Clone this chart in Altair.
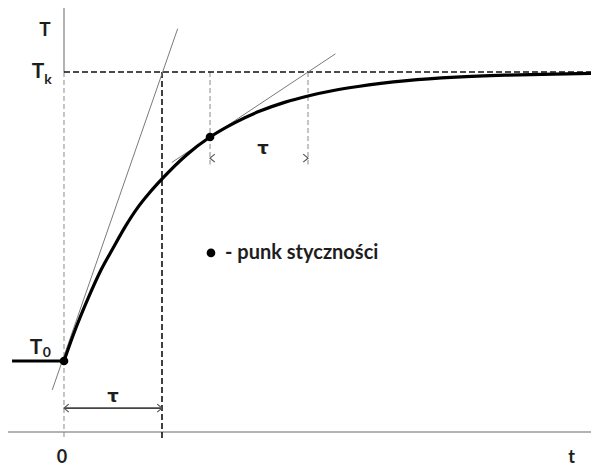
import altair as alt
import pandas as pd

# ---- data (time in units of tau, temperature normalised: T0 = 0, Tk = 1) ----
step_t = [-0.53, 0.0]
step_T = [0.0, 0.0]

curve_t = [0.0, 0.1, 0.25, 0.375, 0.5, 0.625, 0.75, 0.875, 1.0, 1.25, 1.49, 1.75, 2.0, 2.25, 2.5, 2.75, 3.0, 3.5, 4.0, 4.5, 5.0, 5.38]
curve_T = [0.0, 0.095, 0.22, 0.313, 0.39, 0.465, 0.53, 0.583, 0.63, 0.713, 0.775, 0.826, 0.865, 0.895, 0.918, 0.936, 0.95, 0.97, 0.982, 0.989, 0.993, 0.995]

tangent_x1 = [-0.12, 1.10]
tangent_y1 = [-0.10, 0.687]
tangent_x2 = [1.16, 2.77]
tangent_y2 = [1.15, 1.063]

touch_t = [0.0, 1.49]
touch_T = [0.0, 0.775]

axis_level = -0.246
X_MIN, X_MAX = -0.5714, 5.3776
Y_MIN, Y_MAX = -0.3633, 1.2215

xs = alt.Scale(domain=[X_MIN, X_MAX], nice=False, zero=False)
ys = alt.Scale(domain=[Y_MIN, Y_MAX], nice=False, zero=False)
FONT = "Lato"
TXT = "#1e1e1e"


def seg(x1, y1, x2, y2):
    return pd.DataFrame({"x": x1, "y": y1, "x2": x2, "y2": y2})


def rule(df, color, width, dash=None):
    kw = dict(color=color, strokeWidth=width)
    if dash:
        kw["strokeDash"] = dash
    return alt.Chart(df).mark_rule(**kw).encode(
        x=alt.X("x:Q", scale=xs, axis=None),
        y=alt.Y("y:Q", scale=ys, axis=None),
        x2="x2:Q", y2="y2:Q")


axes = rule(seg([X_MIN, 0.0], [axis_level, 1.0], [X_MAX, 0.0], [axis_level, Y_MAX]),
            "#9a9a9a", 1.5)
thin_dash = rule(seg([0.0, 1.49, 2.49], [1.0, 1.0, 1.0], [0.0, 1.49, 2.49], [-0.273, 0.68, 0.68]),
                 "#8a8a8a", 1, [5, 3])
thick_dash = rule(seg([0.0, 1.0], [1.0, 1.0], [X_MAX, 1.0], [1.0, -0.273]),
                  "#111111", 1.6, [6, 3])
tangents = rule(seg(tangent_x1, tangent_y1, tangent_x2, tangent_y2), "#7a7a7a", 1)
arrow_line = rule(seg([0.0], [-0.163], [1.0], [-0.163]), "#444444", 1.6)

heads_left = alt.Chart(pd.DataFrame({"x": [0.0, 1.49], "y": [-0.163, 0.702]})).mark_point(
    shape="M1.2,-1L0,0L1.2,1", filled=False, size=64, color="#555555", strokeWidth=1.2,
    opacity=1).encode(x=alt.X("x:Q", scale=xs, axis=None), y=alt.Y("y:Q", scale=ys, axis=None))
heads_right = alt.Chart(pd.DataFrame({"x": [1.0, 2.49], "y": [-0.163, 0.702]})).mark_point(
    shape="M-1.2,-1L0,0L-1.2,1", filled=False, size=64, color="#555555", strokeWidth=1.2,
    opacity=1).encode(x=alt.X("x:Q", scale=xs, axis=None), y=alt.Y("y:Q", scale=ys, axis=None))

step = alt.Chart(pd.DataFrame({"t": step_t, "T": step_T})).mark_line(
    color="black", strokeWidth=3).encode(
    x=alt.X("t:Q", scale=xs, axis=None), y=alt.Y("T:Q", scale=ys, axis=None))
curve = alt.Chart(pd.DataFrame({"t": curve_t, "T": curve_T})).mark_line(
    color="black", strokeWidth=3.2, interpolate="monotone").encode(
    x=alt.X("t:Q", scale=xs, axis=None), y=alt.Y("T:Q", scale=ys, axis=None))

dots = alt.Chart(pd.DataFrame({"t": touch_t + [1.50], "T": touch_T + [0.374]})).mark_circle(
    color="black", size=75, opacity=1).encode(
    x=alt.X("t:Q", scale=xs, axis=None), y=alt.Y("T:Q", scale=ys, axis=None))

labels = pd.DataFrame({
    "x": [-0.194, -0.265, -0.285, -0.02, 5.18],
    "y": [1.145, 1.0, 0.045, -0.336, -0.336],
    "text": ["T", "T", "T", "0", "t"],
    "size": [19, 21, 21, 18, 18],
})
big_text = alt.Chart(labels).mark_text(font=FONT, fontWeight="bold", color=TXT,
                                       align="center", baseline="middle").encode(
    x=alt.X("x:Q", scale=xs, axis=None), y=alt.Y("y:Q", scale=ys, axis=None),
    text="text:N", size=alt.Size("size:Q", scale=None, legend=None))

tau_text = alt.Chart(pd.DataFrame({"x": [0.50, 2.03], "y": [-0.125, 0.733], "text": ["τ", "τ"]})).mark_text(
    font="DejaVu Sans", fontWeight="bold", color=TXT, fontSize=18,
    align="center", baseline="middle").encode(
    x=alt.X("x:Q", scale=xs, axis=None), y=alt.Y("y:Q", scale=ys, axis=None), text="text:N")

subs = pd.DataFrame({"x": [-0.163, -0.175], "y": [0.972, 0.028], "text": ["k", "0"]})
sub_text = alt.Chart(subs).mark_text(font=FONT, fontWeight="bold", color=TXT, fontSize=14,
                                     align="center", baseline="middle").encode(
    x=alt.X("x:Q", scale=xs, axis=None), y=alt.Y("y:Q", scale=ys, axis=None), text="text:N")

legend_text = alt.Chart(pd.DataFrame({"x": [1.643], "y": [0.374], "text": ["- punk styczności"]})).mark_text(
    font=FONT, fontWeight="bold", color=TXT, fontSize=20, align="left", baseline="middle").encode(
    x=alt.X("x:Q", scale=xs, axis=None), y=alt.Y("y:Q", scale=ys, axis=None), text="text:N")

chart = alt.layer(axes, thin_dash, thick_dash, tangents, arrow_line, heads_left, heads_right,
                  step, curve, dots, big_text, tau_text, sub_text, legend_text).properties(
    width=583, height=458, padding=0,
    autosize=alt.AutoSizeParams(type="none"),
).configure_view(stroke=None)

chart.save("out.html", embed_options={"renderer": "svg", "actions": False})
